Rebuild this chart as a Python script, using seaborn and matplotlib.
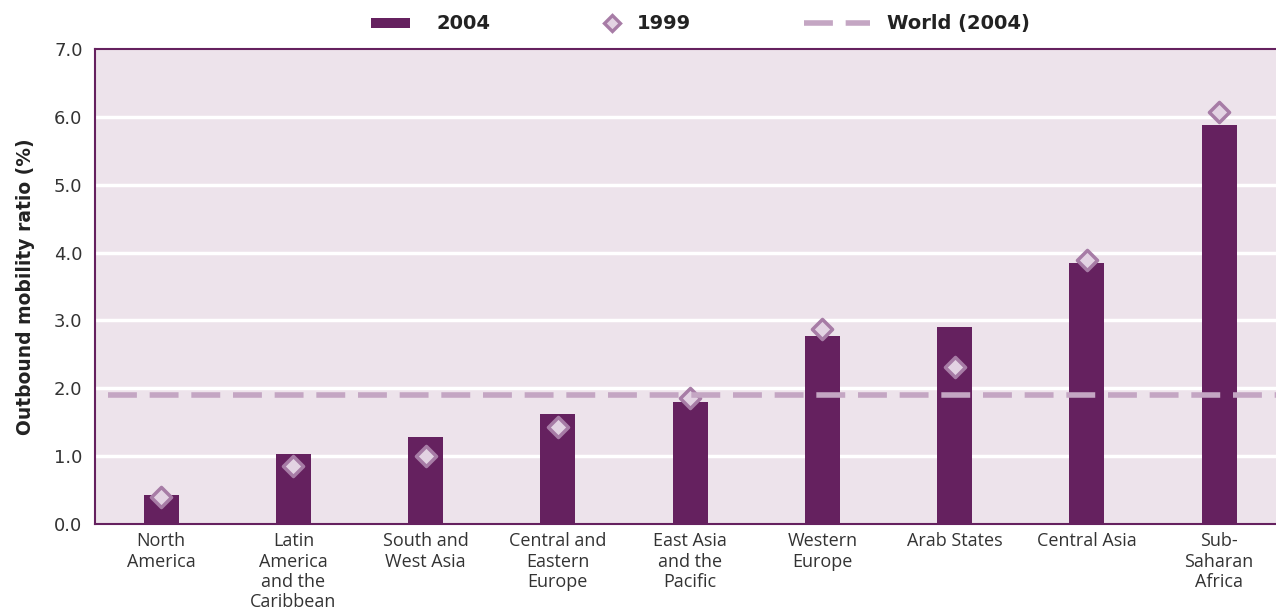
import numpy as np
import pandas as pd
import seaborn as sns
import matplotlib.pyplot as plt
from matplotlib.lines import Line2D

regions = ["North\nAmerica", "Latin\nAmerica\nand the\nCaribbean", "South and\nWest Asia",
           "Central and\nEastern\nEurope", "East Asia\nand the\nPacific", "Western\nEurope",
           "Arab States", "Central Asia", "Sub-\nSaharan\nAfrica"]
ratio_2004 = [0.43, 1.03, 1.28, 1.62, 1.80, 2.77, 2.90, 3.85, 5.88]
ratio_1999 = [0.40, 0.85, 1.00, 1.43, 1.86, 2.87, 2.31, 3.89, 6.07]
world_2004 = 1.90

bar_col = "#65215f"
dia_edge = "#a77ca6"
dia_face = "#e3d3e3"
world_col = "#c4a6c3"
bg = "#ede3eb"
tick_col = "#b48fb2"

df = pd.DataFrame({"region": regions, "y2004": ratio_2004, "y1999": ratio_1999})

sns.set_style("white")
plt.rcParams['font.family'] = ['Open Sans', 'DejaVu Sans']

fig = plt.figure(figsize=(12.76, 6.13), dpi=100)
ax = fig.add_axes([0.0745, 0.1452, 0.9255, 0.7748])
ax.set_facecolor(bg)

sns.barplot(data=df, x="region", y="y2004", color=bar_col, width=0.265,
            saturation=1, linewidth=0, edgecolor="none", ax=ax, zorder=3)
ax.scatter(np.arange(len(regions)), df["y1999"], marker="D", s=105,
           facecolor=dia_face, edgecolor=dia_edge, linewidth=2.5, zorder=4)
ax.hlines(world_2004, -0.4, 8.43, color=world_col, lw=4, linestyles=(0, (5.2, 2.3)), zorder=5)

ax.set_ylim(0, 7)
ax.set_xlim(-0.5, 8.43)
ax.set_yticks(np.arange(0, 7.1, 1))
ax.set_yticklabels([f"{v:.1f}" for v in np.arange(0, 7.1, 1)], fontsize=13,
                   color="#333333", family="DejaVu Sans")
for v in range(1, 7):
    ax.axhline(v, color="white", lw=2.5, zorder=1)

ax.set_xticks(np.arange(len(regions)))
ax.set_xticklabels(regions, fontsize=13, color="#333333", linespacing=1.17, va="top")
ax.tick_params(axis="x", length=0, pad=6)
ax.set_xticks(np.arange(-0.5, 8.5, 1), minor=True)
ax.tick_params(axis="x", which="minor", length=5, width=4, color=tick_col, direction="out")
ax.tick_params(axis="y", length=5, width=4, color=tick_col, pad=4)

for s in ["left", "bottom", "top"]:
    ax.spines[s].set_color(bar_col)
    ax.spines[s].set_linewidth(1.5)
ax.spines["right"].set_visible(False)

ax.set_xlabel("")
ax.set_ylabel("Outbound mobility ratio (%)", fontsize=13.5, fontweight="bold",
              color="#222222", labelpad=14, family="DejaVu Sans")

# legend, three separate pieces to match spacing
W = 1276.0
leg_y = 0.961
items = [
    (Line2D([], [], color=bar_col, lw=7.2, solid_capstyle="butt"), "2004", 371, 2.0, 1.35),
    (Line2D([], [], marker="D", ls="none", markersize=8, markerfacecolor=dia_face,
            markeredgecolor=dia_edge, markeredgewidth=2.4), "1999", 603, 0.9, 0.85),
    (Line2D([], [], color=world_col, lw=4, dashes=(5.2, 2.3)), "World (2004)", 804, 3.4, 0.85),
]
for h, lab, x0, hl, pad in items:
    fig.legend([h], [lab], loc="center left", bbox_to_anchor=(x0 / W, leg_y),
               frameon=False, borderpad=0, borderaxespad=0,
               prop={"weight": "bold", "size": 14, "family": "DejaVu Sans"},
               handlelength=hl, handletextpad=pad, labelcolor="#222222")

fig.savefig("out.png", dpi=100)
